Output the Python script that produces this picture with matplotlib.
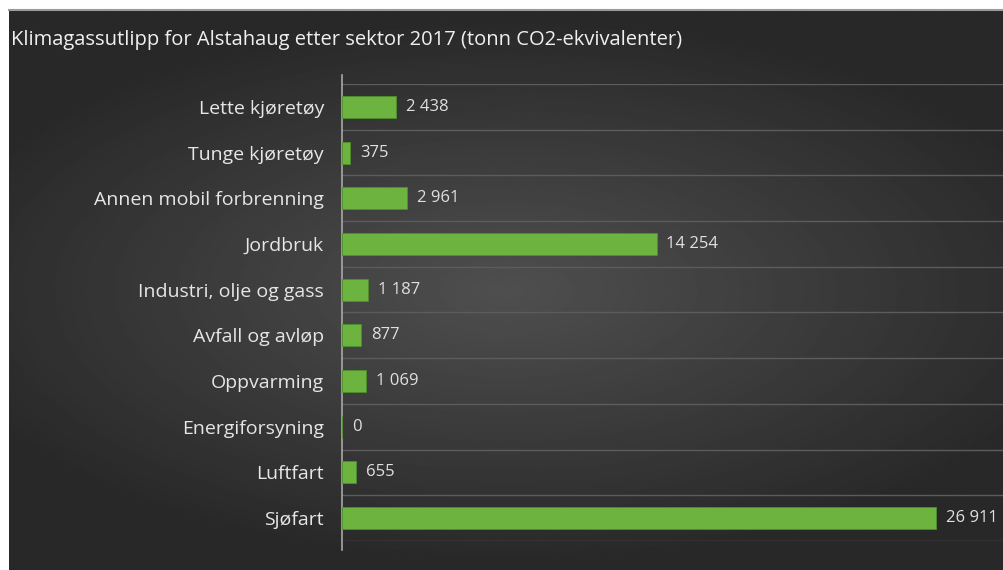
import numpy as np
import matplotlib.pyplot as plt

# data
sektorer = ["Lette kjøretøy", "Tunge kjøretøy", "Annen mobil forbrenning", "Jordbruk",
            "Industri, olje og gass", "Avfall og avløp", "Oppvarming", "Energiforsyning",
            "Luftfart", "Sjøfart"]
utslipp = [2438, 375, 2961, 14254, 1187, 877, 1069, 0, 655, 26911]
tittel = "Klimagassutlipp for Alstahaug etter sektor 2017 (tonn CO2-ekvivalenter)"

plt.rcParams['font.family'] = ['Open Sans', 'DejaVu Sans']

fig = plt.figure(figsize=(10.04, 5.70), dpi=100)
fig.patch.set_facecolor("white")

# --- mørk bakgrunn med radial gradient ---
bg = fig.add_axes([9 / 1004, 0, 1 - 9 / 1004, 1 - 10 / 570])
yy, xx = np.mgrid[-1:1:300j, -1:1:500j]
r = np.sqrt((xx * 0.9) ** 2 + (yy * 1.1) ** 2)
shade = np.clip(0.31 - 0.14 * r, 0.16, 0.31)
bg.imshow(shade, cmap="gray", vmin=0, vmax=1, aspect="auto", extent=[0, 1, 0, 1])
bg.set_axis_off()
# tynn grå linje øverst
fig.add_artist(plt.Line2D([9 / 1004, 1], [1 - 10 / 570, 1 - 10 / 570],
                          color="#9a9a9a", lw=1.5))

ax = fig.add_axes([342 / 1004, 1 - 541 / 570, 1 - 342 / 1004, (541 - 84) / 570])
ax.set_facecolor("none")

y = np.arange(len(sektorer))
ax.barh(y, utslipp, height=0.48, color="#6db33f", edgecolor="#4f8f2a", linewidth=0.6, zorder=3)

for yi, v in zip(y, utslipp):
    lab = f"{v:,}".replace(",", " ")
    ax.text(v + 450, yi, lab, va="center", ha="left", color="#e0e0e0", fontsize=12, zorder=4)

ax.set_xlim(0, 30000)
ax.set_ylim(len(sektorer) - 0.5, -0.5)
ax.set_yticks(y)
ax.set_yticklabels(sektorer, color="#e6e6e6", fontsize=14)
ax.tick_params(axis="y", length=0, pad=13)
ax.set_xticks([])

for b in np.arange(-0.5, len(sektorer) + 0.5, 1):
    ax.axhline(b, color="#5c5c5c", lw=1, zorder=1)

for s in ["top", "right", "bottom"]:
    ax.spines[s].set_visible(False)
ax.spines["left"].set_color("#a8a8a8")
ax.spines["left"].set_linewidth(1.2)
ax.spines["left"].set_bounds(len(sektorer) - 0.3, -0.7)

fig.text(11 / 1004, 1 - 40 / 570, tittel, color="#f0f0f0", fontsize=14.5, va="center", ha="left")

fig.savefig("out.png", dpi=100, facecolor=fig.get_facecolor())
